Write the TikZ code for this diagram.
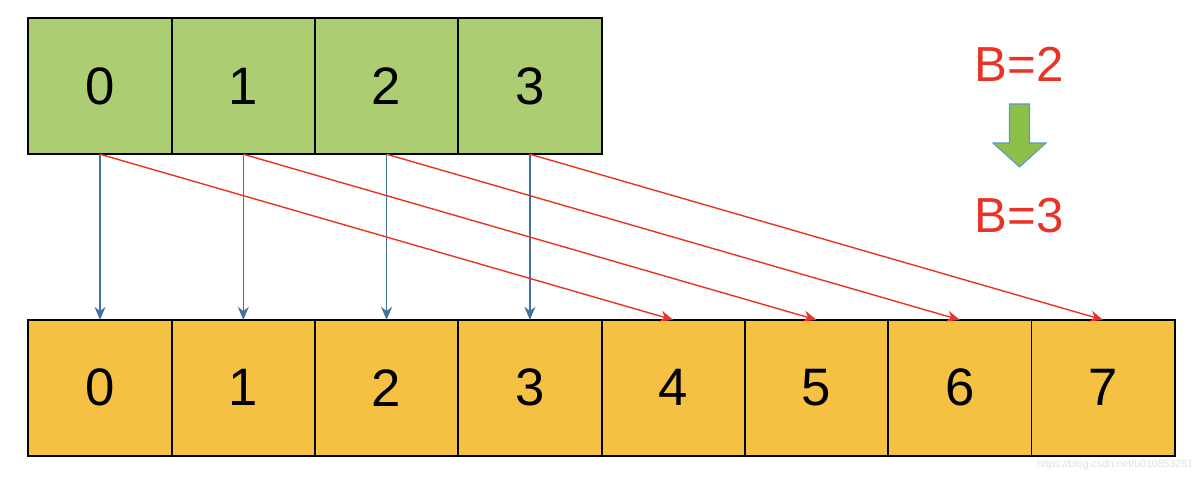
\documentclass[tikz,border=0pt]{standalone}
\usepackage{fontspec}
\setmainfont{Liberation Sans}
\usetikzlibrary{positioning,arrows.meta}

\definecolor{cellgreen}{RGB}{173,205,115}
\definecolor{cellorange}{RGB}{244,193,67}
\definecolor{linkblue}{RGB}{66,114,160}
\definecolor{linkred}{RGB}{232,52,38}
\definecolor{arrowgreen}{RGB}{140,192,72}
\definecolor{arrowedge}{RGB}{95,150,205}

\begin{document}
\begin{tikzpicture}[>={Stealth[length=2.6mm,width=2.2mm]},
    cell/.style={draw, line width=1.1pt, minimum width=2.866cm, minimum height=2.72cm,
                 inner sep=0pt, outer sep=0pt, font=\fontsize{30}{36}\selectfont},
    oldcell/.style={cell, fill=cellgreen},
    newcell/.style={cell, fill=cellorange},
    keep/.style={->, draw=linkblue, line width=0.8pt},
    move/.style={->, draw=linkred, line width=0.8pt},
    btext/.style={text=linkred, font=\fontsize{28}{34}\selectfont}]
        \useasboundingbox (0,0) rectangle (24,9.54);

        % old table, B=2
        \node[oldcell] (t0) at (2.0,7.815) {0};
        \node[oldcell, right=0pt of t0] (t1) {1};
        \node[oldcell, right=0pt of t1] (t2) {2};
        \node[oldcell, right=0pt of t2] (t3) {3};

        % new table, B=3
        \node[newcell] (b0) at (2.0,1.783) {0};
        \node[newcell, right=0pt of b0] (b1) {1};
        \node[newcell, right=0pt of b1] (b2) {2};
        \node[newcell, right=0pt of b2] (b3) {3};
        \node[newcell, right=0pt of b3] (b4) {4};
        \node[newcell, right=0pt of b4] (b5) {5};
        \node[newcell, right=0pt of b5] (b6) {6};
        \node[newcell, right=0pt of b6] (b7) {7};

        \draw[keep] (t0.south) -- (b0.north);
        \draw[keep] (t1.south) -- (b1.north);
        \draw[keep] (t2.south) -- (b2.north);
        \draw[keep] (t3.south) -- (b3.north);

        \draw[move] (t0.south) -- (b4.north);
        \draw[move] (t1.south) -- (b5.north);
        \draw[move] (t2.south) -- (b6.north);
        \draw[move] (t3.south) -- (b7.north);

        \node[btext] (from) at (20.38,8.26) {B=2};
        \node[btext] (to) at (20.38,5.22) {B=3};

        % green arrow between the two labels
        \coordinate (g) at (20.39,7.46);
        \draw[fill=arrowgreen, draw=arrowedge, line width=0.6pt]
            ([xshift=-0.2cm]g) -- ([xshift=0.2cm]g) -- ([xshift=0.2cm,yshift=-0.78cm]g)
            -- ([xshift=0.53cm,yshift=-0.78cm]g) -- ([yshift=-1.26cm]g)
            -- ([xshift=-0.53cm,yshift=-0.78cm]g) -- ([xshift=-0.2cm,yshift=-0.78cm]g) -- cycle;

        \node[text=gray!25, font=\fontsize{6}{7}\selectfont] (mark) at (22.3,0.24) {https://blog.csdn.net/u010853261};
    \end{tikzpicture}
\end{document}
